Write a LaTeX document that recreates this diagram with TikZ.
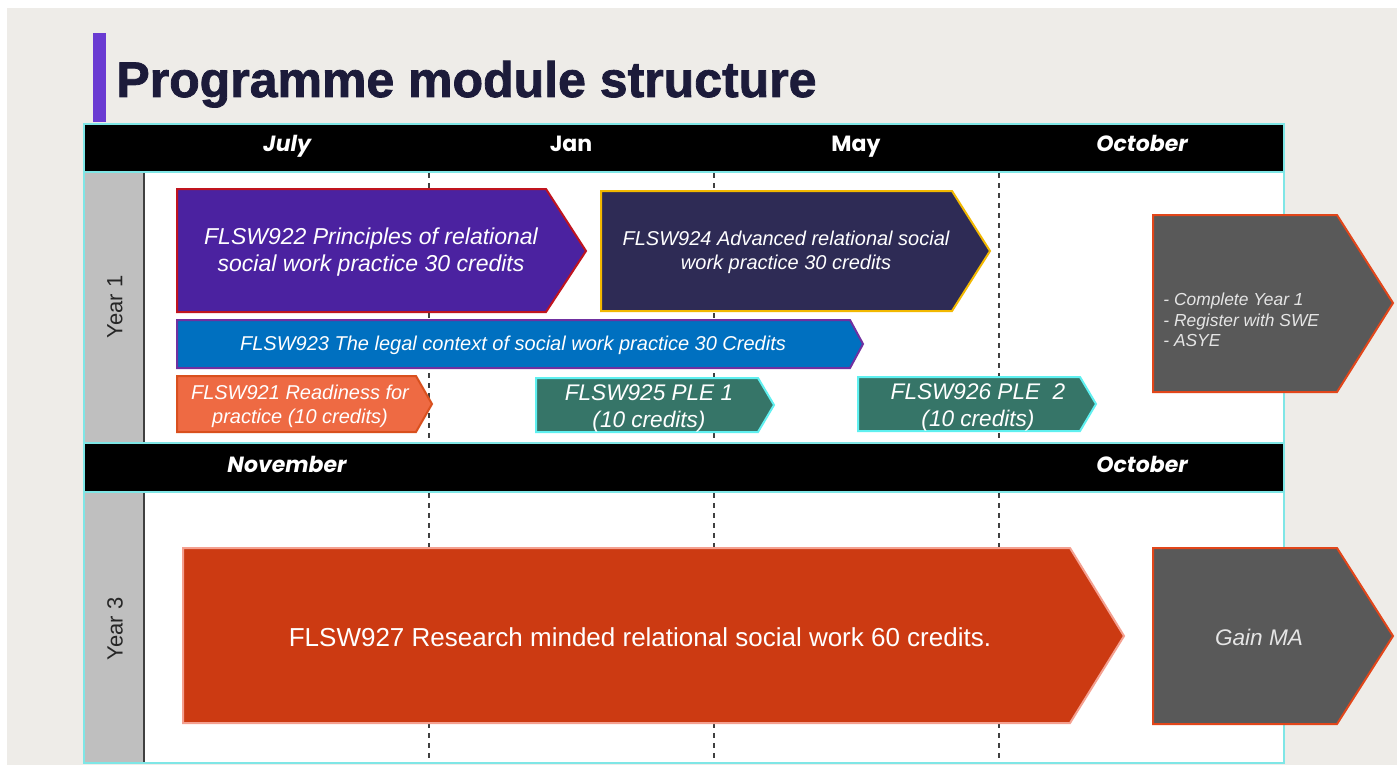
\documentclass[tikz,border=0pt]{standalone}
\usepackage{fontspec}
\setmainfont{Liberation Sans}
\newfontfamily\poppins{Poppins}
\newfontfamily\heavyfont[UprightFont=* Bold,FakeBold=1.6]{Liberation Sans}
\usetikzlibrary{positioning}

\definecolor{pagebg}{HTML}{EEECE8}
\definecolor{accent}{HTML}{6A3BD2}
\definecolor{titlenavy}{HTML}{1C1B3A}
\definecolor{gridcyan}{HTML}{7FE6E6}
\definecolor{yeargrey}{HTML}{BFBFBF}
\definecolor{fill922}{HTML}{4B22A0}
\definecolor{edge922}{HTML}{C0141E}
\definecolor{fill924}{HTML}{2E2B55}
\definecolor{edge924}{HTML}{F2B800}
\definecolor{fill923}{HTML}{0070C0}
\definecolor{edge923}{HTML}{7030A0}
\definecolor{fill921}{HTML}{EE6A43}
\definecolor{edge921}{HTML}{D9501E}
\definecolor{fillple}{HTML}{367568}
\definecolor{edgeple}{HTML}{5FF0F0}
\definecolor{fillgrey}{HTML}{595959}
\definecolor{edgegrey}{HTML}{E2461A}
\definecolor{fill927}{HTML}{CC3A12}
\definecolor{edge927}{HTML}{F4A090}

\begin{document}
\begin{tikzpicture}[x=0.5pt,y=-0.5pt,
  chev/.style={line width=1pt,line join=miter},
  modtext/.style={text=white,align=center,inner sep=0pt},
  month/.style={text=white,inner sep=0pt,anchor=base},
  yearlbl/.style={rotate=90,text=black!85,inner sep=0pt,font=\fontsize{11}{13}\selectfont},
  dashline/.style={black!75,line width=0.7pt,dash pattern=on 2.5pt off 2.5pt}]

\useasboundingbox (0,0) rectangle (1397,765);
\fill[white] (0,0) rectangle (1397,765);
\fill[pagebg] (7,8) rectangle (1397,765);

% heading
\fill[accent] (93,33) rectangle (106,122);
\node[anchor=base west,inner sep=0pt,text=titlenavy,font=\heavyfont\fontsize{25}{28}\selectfont] (title) at (116,97) {Programme module structure};

% table body, month bands and year columns
\fill[white] (84,124) rectangle (1284,763);
\fill[black] (84,124) rectangle (1284,172);
\fill[black] (84,443) rectangle (1284,492);
\fill[yeargrey] (84,172) rectangle (144,443);
\fill[yeargrey] (84,492) rectangle (144,763);
\draw[black!75,line width=1pt] (144,172) -- (144,443) (144,492) -- (144,763);
\foreach \x in {429,714,999} {
  \draw[dashline] (\x,173) -- (\x,443);
  \draw[dashline] (\x,493) -- (\x,763);
}
\draw[gridcyan,line width=1pt] (84,124) rectangle (1284,763)
  (84,172) -- (1284,172) (84,443) -- (1284,443) (84,492) -- (1284,492);

\begin{scope}[every node/.style={month,font=\poppins\bfseries\fontsize{11}{13}\selectfont}]
  \node (jul) at (287,152) {\itshape July};
  \node (jan) at (571,152) {Jan};
  \node (may) at (856,152) {May};
  \node (oct1) at (1142,152) {\itshape October};
  \node (nov) at (287,472) {\itshape November};
  \node (oct3) at (1142,472) {\itshape October};
\end{scope}

\node[yearlbl] (year1) at (115,307) {Year 1};
\node[yearlbl] (year3) at (115,629) {Year 3};

% year 1 modules
\filldraw[chev,fill=fill922,draw=edge922] (177,189) -- (546,189) -- (586,251) -- (546,312) -- (177,312) -- cycle;
\filldraw[chev,fill=fill924,draw=edge924] (601,191) -- (952,191) -- (990,251) -- (952,311) -- (601,311) -- cycle;
\filldraw[chev,fill=fill923,draw=edge923] (177,320) -- (850,320) -- (863,344) -- (850,368) -- (177,368) -- cycle;
\filldraw[chev,fill=fill921,draw=edge921] (177,376) -- (416,376) -- (432,404) -- (416,432) -- (177,432) -- cycle;
\filldraw[chev,fill=fillple,draw=edgeple] (536,378) -- (758,378) -- (774,405) -- (758,432) -- (536,432) -- cycle;
\filldraw[chev,fill=fillple,draw=edgeple] (858,377) -- (1080,377) -- (1096,404) -- (1080,431) -- (858,431) -- cycle;
\filldraw[chev,fill=fillgrey,draw=edgegrey] (1153,215) -- (1337,215) -- (1393,303) -- (1337,392) -- (1153,392) -- cycle;

\begin{scope}[every node/.style={modtext}]
  \node[font=\itshape\fontsize{11.5}{13.5}\selectfont] (m922) at (371,252) {FLSW922 Principles of relational\\social work practice 30 credits};
  \node[font=\itshape\fontsize{10}{12}\selectfont] (m924) at (786,252) {FLSW924 Advanced relational social\\work practice 30 credits};
  \node[font=\itshape\fontsize{10}{12}\selectfont] (m923) at (513,345) {FLSW923 The legal context of social work practice 30 Credits};
  \node[font=\itshape\fontsize{10}{12}\selectfont] (m921) at (300,406) {FLSW921 Readiness for\\practice (10 credits)};
  \node[font=\itshape\fontsize{11.3}{13.5}\selectfont] (m925) at (649,408) {FLSW925 PLE 1\\(10 credits)};
  \node[font=\itshape\fontsize{11.3}{13.5}\selectfont] (m926) at (978,407) {FLSW926 PLE\ \ 2\\(10 credits)};
  \node[anchor=west,align=left,text=white!90!black,font=\itshape\fontsize{8.7}{10.25}\selectfont] (yr1done) at (1163,320) {- Complete Year 1\\- Register with SWE\\- ASYE};
\end{scope}

% year 3 modules
\filldraw[chev,fill=fill927,draw=edge927] (183,548) -- (1070,548) -- (1124,636) -- (1070,723) -- (183,723) -- cycle;
\filldraw[chev,fill=fillgrey,draw=edgegrey] (1153,548) -- (1337,548) -- (1393,636) -- (1337,724) -- (1153,724) -- cycle;

\node[modtext,font=\fontsize{13}{15}\selectfont] (m927) at (640,637) {FLSW927 Research minded relational social work 60 credits.};
\node[modtext,text=white!90!black,font=\itshape\fontsize{11.3}{13}\selectfont] (gainma) at (1259,637) {Gain MA};

\end{tikzpicture}
\end{document}
